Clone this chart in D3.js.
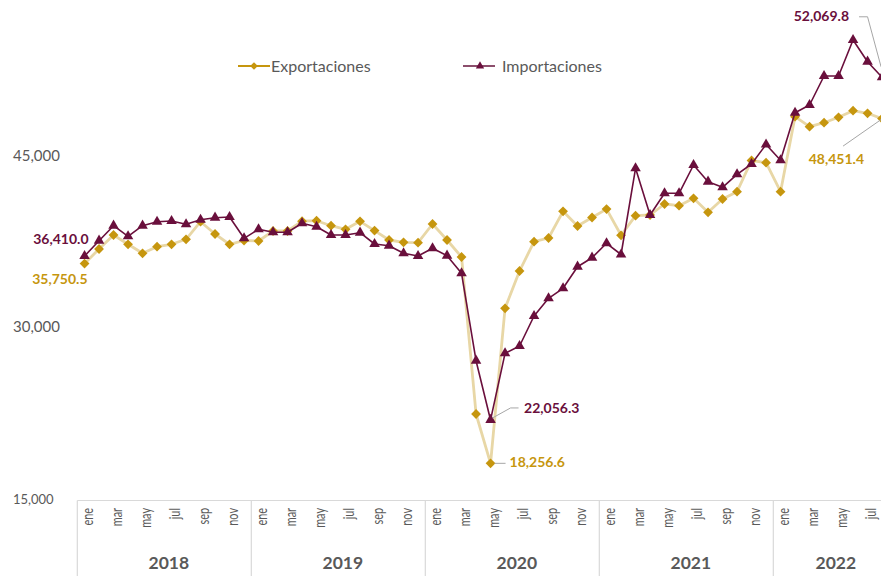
<!DOCTYPE html>
<html>
<head>
<meta charset="utf-8">
<script src="https://cdn.jsdelivr.net/npm/d3@7"></script>
<style>
  html, body { margin: 0; padding: 0; background: #ffffff; }
  svg { display: block; }
</style>
</head>
<body>
<svg id="chart" width="881" height="576"></svg>
<script>
// ---------------- DATA ----------------
const years = [2018, 2019, 2020, 2021, 2022];
const monthNames = ["ene","feb","mar","abr","may","jun","jul","ago","sep","oct","nov","dic"];
const shownMonths = ["ene","mar","may","jul","sep","nov"];
const yTicks = [15000, 30000, 45000];
const seriesNames = ["Exportaciones", "Importaciones"];

const exportaciones = [
  35750.5, 37029, 38255, 37441, 36652, 37230, 37441, 37879, 39420, 38343, 37441, 37773,
  37730, 38606, 38606, 39464, 39508, 39070, 38754, 39455, 38641, 37817, 37616, 37581,
  39219, 37817, 36329, 22577, 18256.6, 31835, 35102, 37668, 37992, 40331, 39044, 39788,
  40524, 38229, 39946, 40007, 40970, 40822, 41470, 40244, 41409, 42048, 44781, 44588,
  42048, 48617, 47741, 48092, 48565, 49143, 48915, 48451.4
];
const importaciones = [
  36410.0, 37756, 39070, 38141, 39070, 39420, 39481, 39192, 39595, 39771, 39832, 37966,
  38754, 38492, 38492, 39280, 38982, 38255, 38255, 38457, 37467, 37318, 36652, 36416,
  37090, 36442, 34900, 27245, 22056.3, 27893, 28533, 31160, 32711, 33587, 35479, 36267,
  37528, 36547, 44098, 40007, 41908, 41908, 44386, 42924, 42433, 43572, 44474, 46182,
  44798, 48967, 49642, 52182, 52182, 55335, 53435, 52069.8
];

// ---------------- SETUP ----------------
const periods = [];
years.forEach(y => monthNames.forEach(m => periods.push({year: y, month: m})));
periods.length = exportaciones.length;
periods.forEach((p, i) => p.key = p.year + "-" + p.month);

const svg = d3.select("#chart");
const FONT = "Lato, 'Open Sans', sans-serif";
const C_EXP_LINE = "#E8D7A6";
const C_EXP = "#C6960E";
const C_IMP = "#6A0F3C";
const C_TEXT = "#595959";
const C_AXIS = "#D9D9D9";

const left = 77.3, step = 14.5;
const x = d3.scaleBand()
  .domain(periods.map(p => p.key))
  .range([left, left + step * periods.length])
  .paddingInner(0).paddingOuter(0);
const xc = i => x(periods[i].key) + x.bandwidth() / 2;

const y = d3.scaleLinear().domain([15000, 45000]).range([500.5, 158]);

// ---------------- AXES ----------------
const gY = svg.append("g");
gY.selectAll("text").data(yTicks).join("text")
  .attr("x", 13)
  .attr("y", d => y(d) + 3)
  .attr("font-family", FONT)
  .attr("font-size", d => d === 15000 ? 13 : 15)
  .attr("fill", C_TEXT)
  .text(d => d3.format(",")(d));

// bottom axis line
svg.append("line")
  .attr("x1", left).attr("x2", 881)
  .attr("y1", 500.5).attr("y2", 500.5)
  .attr("stroke", C_AXIS).attr("stroke-width", 1.2);

// year dividers
const yearStarts = years.map(yr => periods.findIndex(p => p.year === yr));
svg.append("g").selectAll("line").data(yearStarts).join("line")
  .attr("x1", i => x(periods[i].key)).attr("x2", i => x(periods[i].key))
  .attr("y1", 500.5).attr("y2", 576)
  .attr("stroke", C_AXIS).attr("stroke-width", 1.2);

// month labels
const monthTicks = periods.map((p, i) => ({p, i})).filter(d => shownMonths.includes(d.p.month));
svg.append("g").selectAll("text").data(monthTicks).join("text")
  .attr("transform", d => `translate(${xc(d.i) + 8},508) rotate(-90) scale(0.68,1)`)
  .attr("text-anchor", "end")
  .attr("font-family", FONT)
  .attr("font-size", 16)
  .attr("fill", C_TEXT)
  .text(d => d.p.month);

// year labels
svg.append("g").selectAll("text").data(years).join("text")
  .attr("x", yr => {
    const idx = periods.map((p, i) => p.year === yr ? i : -1).filter(i => i >= 0);
    return (xc(idx[0]) + xc(idx[idx.length - 1])) / 2 + 4.5;
  })
  .attr("y", 569)
  .attr("text-anchor", "middle")
  .attr("font-family", FONT)
  .attr("font-weight", "bold")
  .attr("font-size", 17.5)
  .attr("fill", C_TEXT)
  .text(d => d);

// ---------------- LINES ----------------
const line = d3.line().x((d, i) => xc(i)).y(d => y(d));

svg.append("path").datum(exportaciones)
  .attr("d", line).attr("fill", "none")
  .attr("stroke", C_EXP_LINE).attr("stroke-width", 2.8).attr("stroke-linejoin", "round");

const diamond = d3.symbol().type(d3.symbolSquare).size(48);
svg.append("g").selectAll("path").data(exportaciones).join("path")
  .attr("d", diamond)
  .attr("transform", (d, i) => `translate(${xc(i)},${y(d)}) rotate(45)`)
  .attr("fill", C_EXP);

svg.append("path").datum(importaciones)
  .attr("d", line).attr("fill", "none")
  .attr("stroke", C_IMP).attr("stroke-width", 1.6).attr("stroke-linejoin", "round");

const tri = d3.symbol().type(d3.symbolTriangle).size(48);
svg.append("g").selectAll("path").data(importaciones).join("path")
  .attr("d", tri)
  .attr("transform", (d, i) => `translate(${xc(i)},${y(d)})`)
  .attr("fill", C_IMP);

// ---------------- LEGEND ----------------
const lg = svg.append("g");
lg.append("line").attr("x1", 238).attr("x2", 270).attr("y1", 66).attr("y2", 66)
  .attr("stroke", C_EXP).attr("stroke-width", 2);
lg.append("path").attr("d", d3.symbol().type(d3.symbolSquare).size(30))
  .attr("transform", "translate(254,66) rotate(45)").attr("fill", C_EXP);
lg.append("text").attr("x", 271).attr("y", 71.5)
  .attr("font-family", FONT).attr("font-size", 16).attr("fill", C_TEXT).text(seriesNames[0]);

lg.append("line").attr("x1", 463).attr("x2", 495).attr("y1", 66).attr("y2", 66)
  .attr("stroke", "#8C4E6C").attr("stroke-width", 2);
lg.append("path").attr("d", d3.symbol().type(d3.symbolTriangle).size(30))
  .attr("transform", "translate(480,66)").attr("fill", C_IMP);
lg.append("text").attr("x", 502).attr("y", 71.5)
  .attr("font-family", FONT).attr("font-size", 16).attr("fill", C_TEXT).text(seriesNames[1]);

// ---------------- DATA LABELS ----------------
const fmt = d3.format(",.1f");
const last = exportaciones.length - 1;
const iMin = importaciones.indexOf(d3.min(importaciones));
const eMin = exportaciones.indexOf(d3.min(exportaciones));

function label(txt, lx, ly, anchor, color) {
  svg.append("text").attr("x", lx).attr("y", ly)
    .attr("text-anchor", anchor)
    .attr("font-family", FONT).attr("font-weight", "bold").attr("font-size", 14)
    .attr("fill", color).text(txt);
}
function leader(pts) {
  svg.append("path").attr("d", d3.line()(pts))
    .attr("fill", "none").attr("stroke", "#A6A6A6").attr("stroke-width", 1);
}

// first values
label(fmt(importaciones[0]), xc(0) + 4, y(importaciones[0]) - 12.5, "end", C_IMP);
label(fmt(exportaciones[0]), xc(0) + 3, y(exportaciones[0]) + 20, "end", C_EXP);

// minimum values
{
  const px = xc(iMin), py = y(importaciones[iMin]);
  leader([[px + 2, py - 2], [px + 20, py - 12], [px + 28, py - 12]]);
  label(fmt(importaciones[iMin]), px + 33.5, py - 6.5, "start", C_IMP);
}
{
  const px = xc(eMin), py = y(exportaciones[eMin]);
  leader([[px + 4, py], [px + 15, py]]);
  label(fmt(exportaciones[eMin]), px + 19, py + 4, "start", C_EXP);
}

// last values
{
  const px = xc(last), py = y(importaciones[last]);
  leader([[px - 23, py - 60.5], [px - 14.5, py - 60.5], [px - 1, py - 10.5]]);
  label(fmt(importaciones[last]), px - 33, py - 56, "end", C_IMP);
}
{
  const px = xc(last), py = y(exportaciones[last]);
  leader([[px - 39, py + 27.5], [px - 1, py + 1]]);
  label(fmt(exportaciones[last]), px - 18, py + 45.5, "end", C_EXP);
}
</script>
</body>
</html>
